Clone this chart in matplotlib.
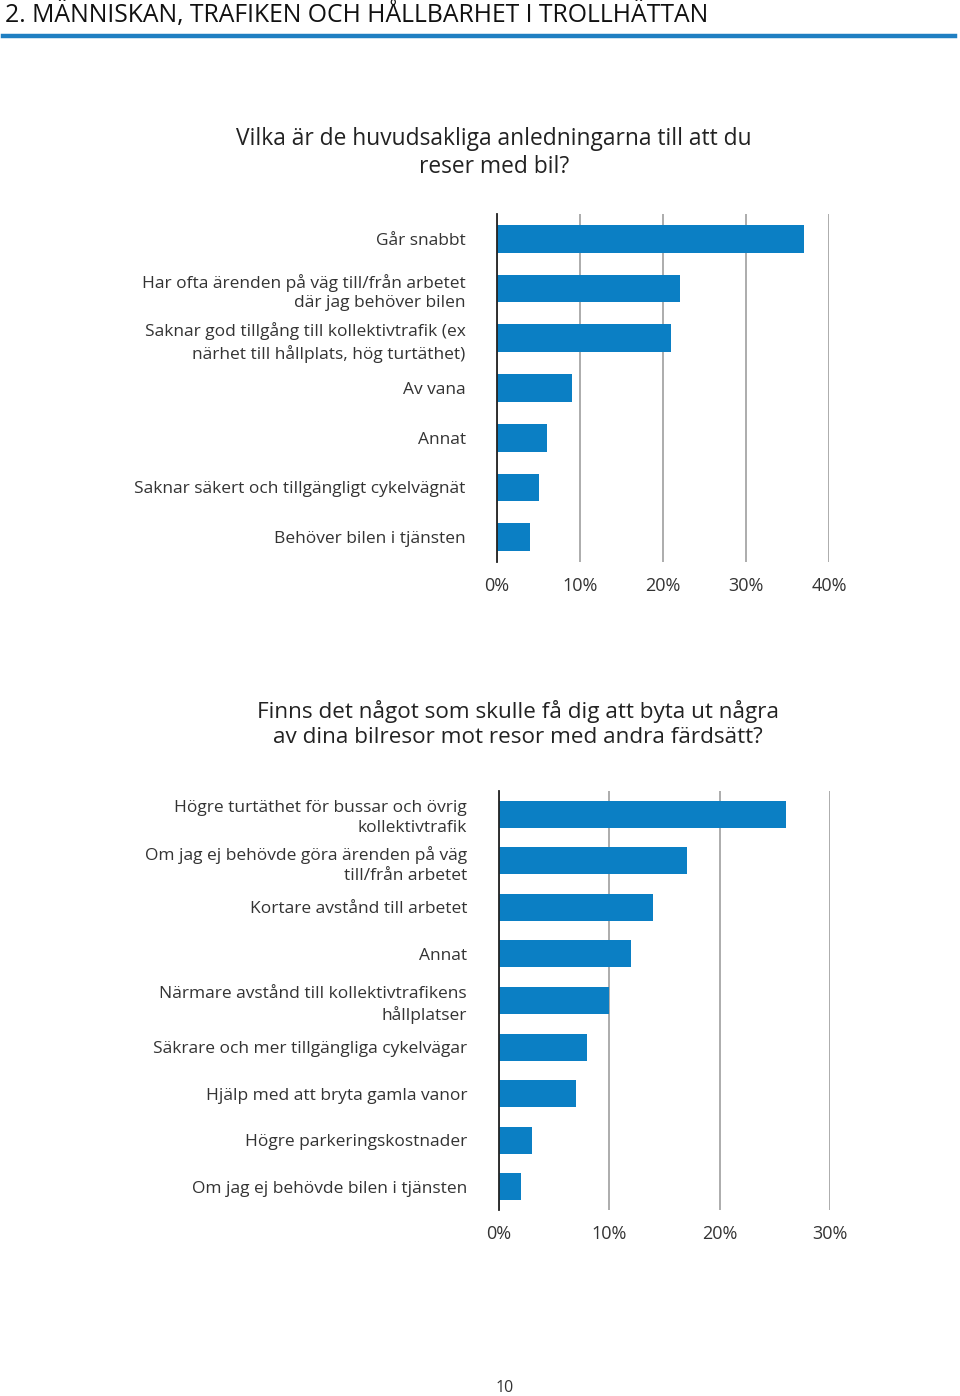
import numpy as np
import matplotlib.pyplot as plt
from matplotlib.ticker import FuncFormatter

plt.rcParams['font.family'] = ['Open Sans', 'DejaVu Sans']

BLUE = '#0b7fc4'
GRID = '#a6a6a6'
TXT = '#333333'

# chart 1
reasons = ['Går snabbt',
           'Har ofta ärenden på väg till/från arbetet\ndär jag behöver bilen',
           'Saknar god tillgång till kollektivtrafik (ex\nnärhet till hållplats, hög turtäthet)',
           'Av vana',
           'Annat',
           'Saknar säkert och tillgängligt cykelvägnät',
           'Behöver bilen i tjänsten']
reason_pct = [37, 22, 21, 9, 6, 5, 4]
ticks_1 = [0, 10, 20, 30, 40]

# chart 2
changes = ['Högre turtäthet för bussar och övrig\nkollektivtrafik',
           'Om jag ej behövde göra ärenden på väg\ntill/från arbetet',
           'Kortare avstånd till arbetet',
           'Annat',
           'Närmare avstånd till kollektivtrafikens\nhållplatser',
           'Säkrare och mer tillgängliga cykelvägar',
           'Hjälp med att bryta gamla vanor',
           'Högre parkeringskostnader',
           'Om jag ej behövde bilen i tjänsten']
change_pct = [26, 17, 14, 12, 10, 8, 7, 3, 2]
ticks_2 = [0, 10, 20, 30]


def barchart(ax, labels, vals, ticks, height, pad):
    y = np.arange(len(labels))
    ax.barh(y, vals, height=height, color=BLUE, zorder=3)
    ax.set_ylim(len(labels) - 0.5, -0.5)
    ax.set_xlim(0, ticks[-1])
    ax.set_xticks(ticks)
    ax.xaxis.set_major_formatter(FuncFormatter(lambda v, p: f'{v:.0f}%'))
    ax.set_yticks(y)
    ax.set_yticklabels(labels, fontsize=12.5, color=TXT, linespacing=1.32)
    ax.tick_params(axis='y', length=0, pad=pad)
    ax.tick_params(axis='x', length=0, pad=11, labelsize=13, labelcolor=TXT)
    ax.grid(axis='x', color=GRID, lw=1.3, zorder=0)
    for s in ['top', 'right', 'bottom']:
        ax.spines[s].set_visible(False)
    ax.spines['left'].set_color('#222222')
    ax.spines['left'].set_linewidth(1.3)
    ax.spines['left'].set_zorder(4)


fig = plt.figure(figsize=(9.6, 13.96), dpi=100)

ax1 = fig.add_axes([497 / 960, 1 - 562 / 1396, 332 / 960, 348 / 1396])
barchart(ax1, reasons, reason_pct, ticks_1, 0.56, 22.5)

ax2 = fig.add_axes([499 / 960, 1 - 1210 / 1396, 331 / 960, 419 / 1396])
barchart(ax2, changes, change_pct, ticks_2, 0.58, 23)

# titles
fig.text(494 / 960, 1 - 153 / 1396,
         'Vilka är de huvudsakliga anledningarna till att du\nreser med bil?',
         ha='center', va='center', fontsize=16.4, color='#222222', linespacing=1.22)
fig.text(518 / 960, 1 - 724 / 1396,
         'Finns det något som skulle få dig att byta ut några\nav dina bilresor mot resor med andra färdsätt?',
         ha='center', va='center', fontsize=16.2, color='#222222', linespacing=1.22)

# page header
fig.text(5 / 960, 1 - 15 / 1396, '2. MÄNNISKAN, TRAFIKEN OCH HÅLLBARHET I TROLLHÄTTAN',
         ha='left', va='center', fontsize=17.8, color='#111111')
fig.add_artist(plt.Line2D([3 / 960, 955 / 960], [1 - 36 / 1396, 1 - 36 / 1396],
                          color='#1f7fc2', lw=3.2))

fig.text(505 / 960, 1 - 1388 / 1396, '10', ha='center', va='center',
         fontsize=11.5, color=TXT)

fig.savefig('out.png', dpi=100, facecolor='white')
